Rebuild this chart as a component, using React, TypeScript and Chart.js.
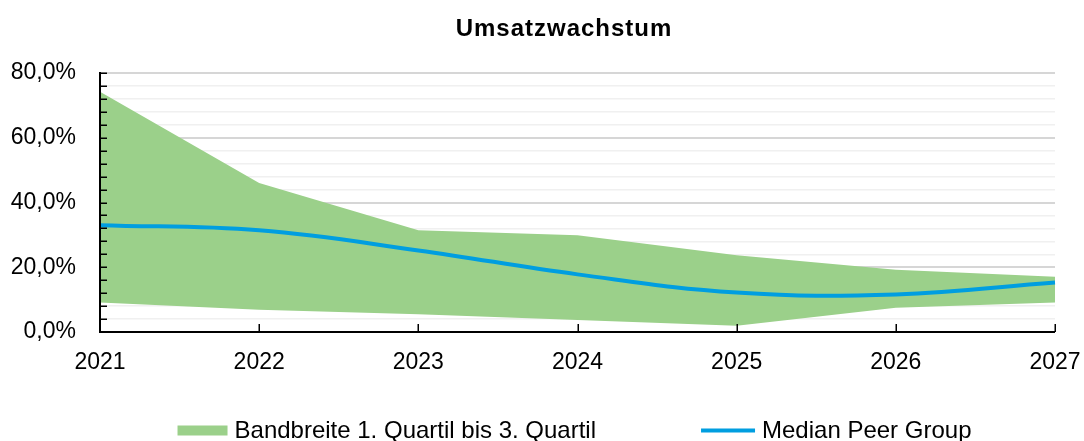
import React, { useEffect, useRef } from "react";
import { Chart, registerables } from "chart.js";

Chart.register(...registerables);

const chartTitle = "Umsatzwachstum";
const years = ["2021", "2022", "2023", "2024", "2025", "2026", "2027"];
const upperQuartile = [74.2, 46.0, 31.4, 29.9, 23.7, 19.2, 17.1];
const lowerQuartile = [9.1, 6.9, 5.5, 3.7, 1.9, 7.5, 9.1];
const medianPeer = [33.0, 31.4, 25.2, 17.8, 12.2, 11.6, 15.3];
const bandLabel = "Bandbreite 1. Quartil bis 3. Quartil";
const medianLabel = "Median Peer Group";

const GREEN = "rgb(155,208,138)";
const BLUE = "rgb(0,158,224)";
const FONT = "'Liberation Sans', Arial, sans-serif";

const decorPlugin = {
  id: "decor",
  afterDatasetsDraw(chart: any) {
    const { ctx, chartArea } = chart;
    const { left, right, top, bottom } = chartArea;
    const yScale = chart.scales.y;
    const xScale = chart.scales.x;
    ctx.save();
    ctx.strokeStyle = "#000";
    ctx.lineWidth = 1.5;
    yScale.ticks.forEach((t: any) => {
      const y = Math.round(yScale.getPixelForValue(t.value)) + 0.25;
      ctx.beginPath();
      ctx.moveTo(left, y);
      ctx.lineTo(left + 7, y);
      ctx.stroke();
    });
    years.forEach((_, i) => {
      const x = Math.round(xScale.getPixelForValue(i)) + 0.25;
      ctx.beginPath();
      ctx.moveTo(x, bottom);
      ctx.lineTo(x, bottom - 8);
      ctx.stroke();
    });
    ctx.lineWidth = 2;
    ctx.beginPath();
    ctx.moveTo(left, top - 1);
    ctx.lineTo(left, bottom);
    ctx.lineTo(right, bottom);
    ctx.stroke();
    ctx.restore();
  },
  afterDraw(chart: any) {
    const { ctx, chartArea } = chart;
    ctx.save();
    ctx.font = `bold 24px ${FONT}`;
    (ctx as any).letterSpacing = "1px";
    ctx.fillStyle = "#000";
    ctx.textAlign = "center";
    ctx.textBaseline = "middle";
    ctx.fillText(chartTitle, 564, 29);
    (ctx as any).letterSpacing = "0px";

    ctx.font = `24px ${FONT}`;
    ctx.textAlign = "left";
    ctx.textBaseline = "alphabetic";
    const w1 = ctx.measureText(bandLabel).width;
    const w2 = ctx.measureText(medianLabel).width;
    const box = 50;
    const line = 54;
    const gapText = 7;
    const gapItems = 105;
    const total = box + gapText + w1 + gapItems + line + gapText + w2;
    const cx = (chartArea.left + chartArea.right) / 2 - 3;
    let x = cx - total / 2;
    const baseline = 438;
    const mid = 430.5;
    ctx.fillStyle = GREEN;
    ctx.fillRect(x, mid - 5, box, 10);
    x += box + gapText;
    ctx.fillStyle = "#000";
    ctx.fillText(bandLabel, x, baseline);
    x += w1 + gapItems;
    ctx.strokeStyle = BLUE;
    ctx.lineWidth = 4;
    ctx.beginPath();
    ctx.moveTo(x, mid);
    ctx.lineTo(x + line, mid);
    ctx.stroke();
    x += line + gapText;
    ctx.fillStyle = "#000";
    ctx.fillText(medianLabel, x, baseline);
    ctx.restore();
  },
};

export default function App() {
  const canvasRef = useRef<HTMLCanvasElement | null>(null);

  useEffect(() => {
    if (!canvasRef.current) return;
    const chart = new Chart(canvasRef.current, {
      type: "line",
      data: {
        labels: years,
        datasets: [
          {
            label: medianLabel,
            data: medianPeer,
            borderColor: BLUE,
            borderWidth: 4,
            pointRadius: 0,
            tension: 0.4,
            fill: false,
          },
          {
            label: "lower",
            data: lowerQuartile,
            borderWidth: 0,
            borderColor: "rgba(0,0,0,0)",
            pointRadius: 0,
            tension: 0,
            fill: false,
          },
          {
            label: bandLabel,
            data: upperQuartile,
            borderWidth: 0,
            borderColor: "rgba(0,0,0,0)",
            backgroundColor: GREEN,
            pointRadius: 0,
            tension: 0,
            fill: 1,
          },
        ],
      },
      options: {
        animation: false,
        responsive: false,
        maintainAspectRatio: false,
        layout: { padding: { top: 73, right: 29, left: 0, bottom: 0 } },
        plugins: {
          legend: { display: false },
          title: { display: false },
          tooltip: { enabled: false },
        },
        scales: {
          x: {
            type: "category",
            offset: false,
            grid: { display: false, drawTicks: false },
            border: { display: false },
            ticks: {
              color: "#000",
              font: { family: FONT, size: 23 },
              padding: 17,
              maxRotation: 0,
              autoSkip: false,
            },
            afterFit(scale: any) {
              scale.height = 109;
              scale.paddingLeft = 0;
              scale.paddingRight = 0;
            },
          },
          y: {
            min: 0,
            max: 80,
            grid: {
              drawTicks: false,
              color: (c: any) =>
                c.tick && c.tick.value % 20 === 0 ? "#D6D6D6" : "#F0F0F0",
              lineWidth: (c: any) => (c.tick && c.tick.value % 20 === 0 ? 2 : 1.5),
            },
            border: { display: false },
            ticks: {
              stepSize: 4,
              autoSkip: false,
              color: "#000",
              font: { family: FONT, size: 23 },
              padding: 24,
              callback: (v: any) =>
                Number(v) % 20 === 0 ? Number(v).toFixed(1).replace(".", ",") + "%" : "",
            },
            afterFit(scale: any) {
              scale.width = 100;
            },
          },
        },
      },
      plugins: [decorPlugin],
    });
    return () => chart.destroy();
  }, []);

  return (
    <div style={{ position: "fixed", left: 0, top: 0, width: 1084, height: 441, background: "#fff" }}>
      <canvas ref={canvasRef} width={1084} height={441} style={{ display: "block" }} />
    </div>
  );
}
